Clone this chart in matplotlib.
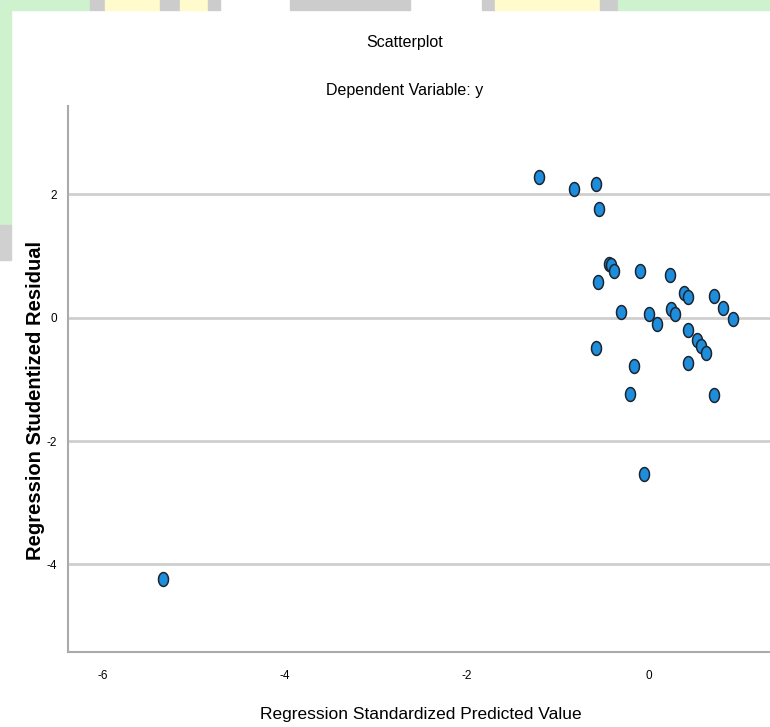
import matplotlib.pyplot as plt
import numpy as np
from matplotlib.patches import Rectangle
from matplotlib.path import Path

plt.rcParams["font.family"] = ["Liberation Sans", "DejaVu Sans"]
plt.rcParams["axes.unicode_minus"] = False

# Regression standardized predicted value vs studentized residual
pred = [-1.205, -0.821, -0.579, -0.549, -0.436, -0.421, -0.381, -0.563,
        -0.096, 0.231, 0.388, 0.432, 0.718, 0.816, 0.919, -0.304, 0.003,
        0.242, 0.289, 0.091, 0.432, 0.531, 0.571, 0.630, -0.579, -0.165,
        0.432, -0.209, 0.718, -0.055, -5.337]
resid = [2.274, 2.084, 2.160, 1.755, 0.863, 0.847, 0.754, 0.576,
         0.754, 0.689, 0.402, 0.327, 0.343, 0.159, -0.029, 0.084, 0.052,
         0.138, 0.057, -0.110, -0.207, -0.365, -0.467, -0.577, -0.494, -0.791,
         -0.737, -1.241, -1.257, -2.530, -4.230]
xticks = [-6, -4, -2, 0]
yticks = [-4, -2, 0, 2]

fig = plt.figure(figsize=(7.7, 7.27), dpi=100)
W, H = 770, 727


def band(x0, y0, x1, y1, color):
    # page decoration around the screenshot, in pixels
    fig.patches.append(Rectangle((x0 / W, 1 - y1 / H), (x1 - x0) / W, (y1 - y0) / H,
                                 transform=fig.transFigure, color=color, zorder=-1))


band(0, 0, 11, 225, "#cdf2cd")
band(0, 225, 11, 260, "#d0d0d0")
band(0, 0, 90, 10, "#cdf2cd")
band(90, 0, 105, 10, "#cccccc")
band(105, 0, 160, 10, "#fffbcc")
band(160, 0, 180, 10, "#cccccc")
band(180, 0, 208, 10, "#fffbcc")
band(208, 0, 220, 10, "#cccccc")
band(290, 0, 410, 10, "#cccccc")
band(482, 0, 495, 10, "#cccccc")
band(495, 0, 600, 10, "#fffbcc")
band(600, 0, 618, 10, "#cccccc")
band(618, 0, 770, 10, "#cdf2cd")

ax = fig.add_axes([68 / W, 1 - 652 / H, 1 - 68 / W, (652 - 106) / H])

t = np.linspace(0, 2 * np.pi, 40)
oval = Path(np.column_stack([0.72 * np.cos(t), np.sin(t)]))
ax.plot(pred, resid, linestyle="none", marker=oval, markersize=10,
        markerfacecolor="#1e8ddb", markeredgecolor="#1c2530",
        markeredgewidth=1.1, zorder=3)

for v in yticks:
    ax.axhline(v, color="#cfcfcf", lw=2, zorder=1)

ax.set_xlim(-6.385, 1.33)
ax.set_ylim(-5.42, 3.43)
ax.set_xticks(xticks)
ax.set_yticks(yticks)
ax.tick_params(length=0, labelsize=8.5, pad=13)
ax.tick_params(axis="y", pad=8)
for s in ["top", "right"]:
    ax.spines[s].set_visible(False)
for s in ["left", "bottom"]:
    ax.spines[s].set_color("#aaaaaa")
    ax.spines[s].set_linewidth(1.5)

fig.text(405 / W, 1 - 43 / H, "Scatterplot", ha="center", va="center", fontsize=11.5)
fig.text(405 / W, 1 - 90 / H, "Dependent Variable: y", ha="center", va="center",
         fontsize=11.5)
fig.text(421 / W, 1 - 715 / H, "Regression Standardized Predicted Value",
         ha="center", va="center", fontsize=12.5)
fig.text(36 / W, 1 - 401 / H, "Regression Studentized Residual", rotation=90,
         ha="center", va="center", fontsize=14.5, fontweight="bold")

fig.savefig("out.png", dpi=100)
